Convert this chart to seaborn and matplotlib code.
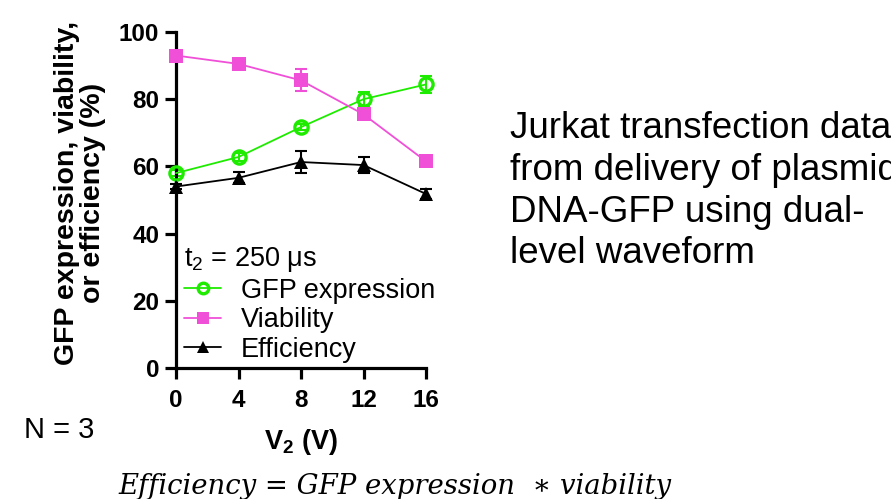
import matplotlib
matplotlib.use("Agg")
import matplotlib.pyplot as plt
import seaborn as sns
import pandas as pd
import numpy as np

voltage = [0, 4, 8, 12, 16]
gfp = [58.0, 62.8, 71.7, 80.0, 84.4]
gfp_err = [0.8, 1.3, 0.8, 2.0, 2.5]
viability = [93.0, 90.5, 85.6, 75.5, 61.5]
viability_err = [0.5, 0.6, 3.3, 0.6, 0.6]
efficiency = [54.0, 56.6, 61.3, 60.4, 51.8]
efficiency_err = [0.8, 1.6, 3.2, 2.5, 1.5]
series_names = ["GFP expression", "Viability", "Efficiency"]

sns.set_style("ticks")
plt.rcParams['font.family'] = ['Liberation Sans', 'DejaVu Sans']
plt.rcParams['text.color'] = 'black'
plt.rcParams['axes.labelcolor'] = 'black'
plt.rcParams['xtick.color'] = 'black'
plt.rcParams['ytick.color'] = 'black'
plt.rcParams['mathtext.fontset'] = 'custom'
plt.rcParams['mathtext.rm'] = 'Liberation Sans'
plt.rcParams['mathtext.bf'] = 'Liberation Sans:bold'

fig = plt.figure(figsize=(8.91, 4.99), dpi=100)
ax = fig.add_axes([176/891, 1-368/499, 250/891, 336/499])

df = pd.DataFrame({
    "V": voltage * 3,
    "val": gfp + viability + efficiency,
    "series": [series_names[0]]*5 + [series_names[1]]*5 + [series_names[2]]*5,
})
colors = {"GFP expression": "#1EEB00", "Viability": "#F050D8", "Efficiency": "#000000"}
styles = {
    "GFP expression": dict(marker="o", markerfacecolor="none", markeredgecolor="#1EEB00", markersize=9.5, markeredgewidth=2.4),
    "Viability": dict(marker="s", markerfacecolor="#F050D8", markeredgecolor="#F050D8", markersize=10, markeredgewidth=0),
    "Efficiency": dict(marker="^", markerfacecolor="#000000", markeredgecolor="#000000", markersize=10.5, markeredgewidth=0),
}
errs = {"GFP expression": gfp_err, "Viability": viability_err, "Efficiency": efficiency_err}
vals = {"GFP expression": gfp, "Viability": viability, "Efficiency": efficiency}

for name in series_names:
    sub = df[df.series == name]
    ax.errorbar(voltage, vals[name], yerr=errs[name], fmt="none", ecolor=colors[name],
                elinewidth=1.5, capsize=4.5, capthick=1.5, clip_on=False, zorder=2)
    sns.lineplot(data=sub, x="V", y="val", ax=ax, color=colors[name], linewidth=1.3,
                 label=name, clip_on=False, zorder=3, **styles[name])

ax.set_xlim(0, 16)
ax.set_ylim(0, 100)
ax.set_xticks([0, 4, 8, 12, 16])
ax.set_yticks([0, 20, 40, 60, 80, 100])
for lab in ax.get_xticklabels() + ax.get_yticklabels():
    lab.set_fontweight("bold")
ax.tick_params(axis="both", labelsize=17.5, width=2.3, length=8, color="black")
ax.tick_params(axis="x", pad=7)
ax.tick_params(axis="y", pad=4)
for s in ["left", "bottom"]:
    ax.spines[s].set_linewidth(2.3)
    ax.spines[s].set_color("black")
sns.despine(ax=ax)

ax.set_xlabel("V$_\\mathbf{2}$ (V)", fontsize=19.5, fontweight="bold", labelpad=11)
ax.set_ylabel("GFP expression, viability,\nor efficiency (%)", fontsize=20.5, fontweight="bold",
              labelpad=9, linespacing=1.0)
ax.yaxis.label.set_y(0.52)

leg = ax.legend(title="t$_2$ = 250 μs", loc="lower left", bbox_to_anchor=(0.0, -0.008),
                frameon=False, fontsize=19.5, title_fontsize=19.5, handlelength=1.37,
                handletextpad=0.72, borderaxespad=0.2, labelspacing=0.13, borderpad=0.1,
                markerscale=0.8)
leg._legend_box.align = "left"

fig.text(510/891, 1-111/499, "Jurkat transfection data\nfrom delivery of plasmid\nDNA-GFP using dual-\nlevel waveform",
         fontsize=26.5, va="top", ha="left", linespacing=1.25)
fig.text(24/891, 1-430/499, "N = 3", fontsize=21, va="center", ha="left")
fig.text(118/891, 1-486/499, "Efficiency = GFP expression  ∗ viability", fontsize=19.8,
         family="DejaVu Serif", style="italic", va="center", ha="left")

fig.savefig("out.png", dpi=100)
